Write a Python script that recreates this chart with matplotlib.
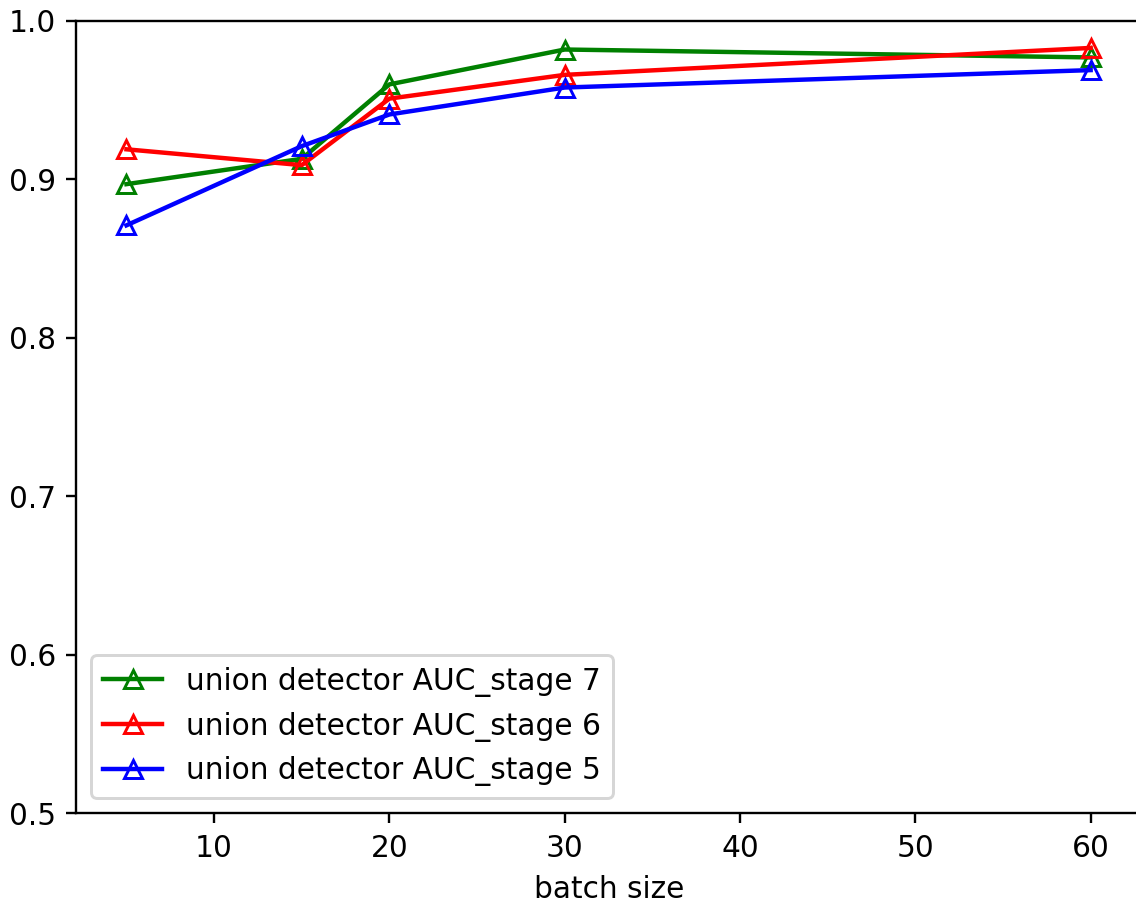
import matplotlib
matplotlib.use("Agg")
import matplotlib.pyplot as plt

batch_sizes = [5, 15, 20, 30, 60]
auc_stage7 = [0.897, 0.913, 0.960, 0.982, 0.977]
auc_stage6 = [0.919, 0.909, 0.951, 0.966, 0.983]
auc_stage5 = [0.871, 0.921, 0.941, 0.958, 0.969]

series = [
    ("union detector AUC_stage 7", auc_stage7, "green"),
    ("union detector AUC_stage 6", auc_stage6, "red"),
    ("union detector AUC_stage 5", auc_stage5, "blue"),
]

DPI = 213
W, H = 1136, 907
fig = plt.figure(figsize=(W / DPI, H / DPI), dpi=DPI)
left_px, right_px, top_px, bottom_px = 76.5, 1142, 21, 813
ax = fig.add_axes([left_px / W, 1 - bottom_px / H,
                   (right_px - left_px) / W, (bottom_px - top_px) / H])

for label, vals, color in series:
    ax.plot(batch_sizes, vals, color=color, marker="^", markerfacecolor="none",
            markeredgecolor=color, label=label)

ax.set_ylim(0.5, 1.0)
ax.set_xlim(2.15, 62.93)
ax.set_yticks([0.5, 0.6, 0.7, 0.8, 0.9, 1.0])
ax.set_xticks([10, 20, 30, 40, 50, 60])
ax.set_xlabel("batch size")
ax.legend(loc="lower left")

fig.savefig("out.png", dpi=DPI)
